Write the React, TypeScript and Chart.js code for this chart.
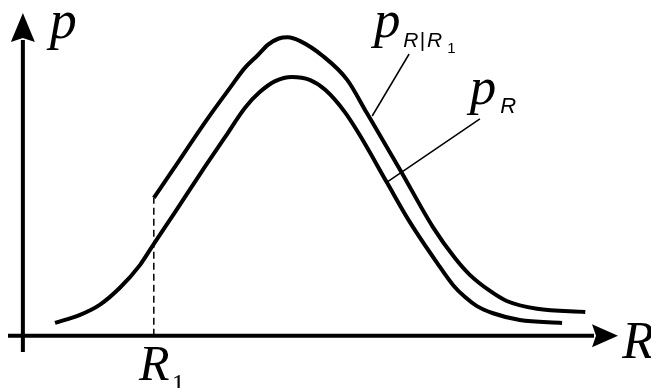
import React, { useEffect, useRef } from "react";
import { Chart, registerables } from "chart.js";

Chart.register(...registerables);

// p_R (unconditional density)
const R_PR = [0.54, 0.96, 1.29, 1.63, 1.97, 2.19, 2.56, 2.98, 3.4, 3.73, 3.98, 4.24, 4.52, 4.82, 5.08, 5.41, 5.66, 6.12, 6.5, 6.96, 7.23, 7.43, 7.63, 7.9, 8.35, 9.06];
const P_PR = [0.04, 0.065, 0.096, 0.149, 0.22, 0.282, 0.384, 0.502, 0.616, 0.706, 0.755, 0.789, 0.802, 0.793, 0.762, 0.693, 0.622, 0.474, 0.353, 0.226, 0.157, 0.12, 0.092, 0.07, 0.049, 0.04];

// p_{R|R1} (conditional density, starts at R1)
const R_COND = [2.2, 2.52, 3.09, 3.48, 3.73, 3.95, 4.12, 4.3, 4.45, 4.66, 5.04, 5.45, 5.78, 6.34, 6.89, 7.26, 7.51, 7.85, 8.13, 8.64, 9.45];
const P_COND = [0.427, 0.514, 0.669, 0.768, 0.83, 0.87, 0.902, 0.921, 0.925, 0.913, 0.867, 0.793, 0.69, 0.514, 0.337, 0.241, 0.189, 0.139, 0.108, 0.084, 0.074];

const R1 = 2.2;

const X_MIN = -0.25;
const X_MAX = 10;
const Y_MIN = -0.05;
const Y_MAX = 1;

const toPts = (xs: number[], ys: number[]) => xs.map((x, i) => ({ x, y: ys[i] }));

const SERIF_I = (s: number) => `italic ${s}px "Liberation Serif", "Times New Roman", serif`;
const SERIF = (s: number) => `${s}px "Liberation Serif", "Times New Roman", serif`;
const SANS_I = (s: number) => `italic ${s}px "Liberation Sans", Arial, sans-serif`;
const SANS = (s: number) => `${s}px "Liberation Sans", Arial, sans-serif`;

// text pieces: [text, R, p, font]
const LABELS: [string, number, number, string][] = [
  ["p", 0.45, 0.923, SERIF_I(54)],
  ["R", 10.07, -0.068, SERIF_I(52)],
  ["R", 1.95, -0.136, SERIF_I(50)],
  ["1", 2.5, -0.173, SERIF(26)],
  ["p", 5.9, 0.926, SERIF_I(53)],
  ["R", 6.39, 0.895, SANS_I(21)],
  ["|", 6.67, 0.895, SANS(21)],
  ["R", 6.79, 0.895, SANS_I(21)],
  ["1", 7.13, 0.876, SANS(15)],
  ["p", 7.51, 0.718, SERIF_I(53)],
  ["R", 8.02, 0.69, SANS_I(22)],
];

// leader lines: [R from, p from, R to, p to]
const LEADERS: [number, number, number, number][] = [
  [6.49, 0.873, 5.87, 0.681],
  [7.68, 0.672, 6.1, 0.474],
];

const axesPlugin = {
  id: "axesPlugin",
  beforeDatasetsDraw(chart: any) {
    const { ctx, scales } = chart;
    const xs = scales.x;
    const ys = scales.y;
    const x0 = xs.getPixelForValue(0);
    const y0 = ys.getPixelForValue(0);
    ctx.save();
    ctx.strokeStyle = "#000";
    ctx.fillStyle = "#000";
    ctx.lineWidth = 4;
    // x axis
    const xTip = xs.getPixelForValue(X_MAX);
    const xBase = xTip - 26;
    ctx.beginPath();
    ctx.moveTo(xs.getPixelForValue(X_MIN), y0);
    ctx.lineTo(xBase + 2, y0);
    ctx.stroke();
    ctx.beginPath();
    ctx.moveTo(xTip, y0);
    ctx.lineTo(xBase, y0 - 11.5);
    ctx.lineTo(xBase + 4, y0);
    ctx.lineTo(xBase, y0 + 11.5);
    ctx.closePath();
    ctx.fill();
    // y axis
    const yTip = ys.getPixelForValue(Y_MAX);
    const yBase = yTip + 29;
    ctx.beginPath();
    ctx.moveTo(x0, ys.getPixelForValue(Y_MIN));
    ctx.lineTo(x0, yBase - 2);
    ctx.stroke();
    ctx.beginPath();
    ctx.moveTo(x0, yTip);
    ctx.lineTo(x0 - 12, yBase);
    ctx.lineTo(x0, yBase - 4);
    ctx.lineTo(x0 + 12, yBase);
    ctx.closePath();
    ctx.fill();
    ctx.restore();
  },
  afterDraw(chart: any) {
    const { ctx, scales } = chart;
    const xs = scales.x;
    const ys = scales.y;
    ctx.save();
    ctx.strokeStyle = "#000";
    ctx.lineWidth = 1.5;
    for (const [ra, pa, rb, pb] of LEADERS) {
      ctx.beginPath();
      ctx.moveTo(xs.getPixelForValue(ra), ys.getPixelForValue(pa));
      ctx.lineTo(xs.getPixelForValue(rb), ys.getPixelForValue(pb));
      ctx.stroke();
    }
    ctx.fillStyle = "#000";
    ctx.textBaseline = "alphabetic";
    ctx.textAlign = "left";
    for (const [t, r, p, f] of LABELS) {
      ctx.font = f;
      ctx.fillText(t, xs.getPixelForValue(r), ys.getPixelForValue(p));
    }
    ctx.restore();
  },
};

export default function App() {
  const ref = useRef<HTMLCanvasElement | null>(null);
  useEffect(() => {
    document.body.style.margin = "0";
    const canvas = ref.current!;
    const chart = new Chart(canvas, {
      type: "line",
      data: {
        datasets: [
          {
            data: toPts(R_PR, P_PR),
            borderColor: "#000",
            borderWidth: 4,
            pointRadius: 0,
            cubicInterpolationMode: "monotone",
            borderCapStyle: "butt",
            borderJoinStyle: "round",
            fill: false,
          },
          {
            data: toPts(R_COND, P_COND),
            borderColor: "#000",
            borderWidth: 4,
            pointRadius: 0,
            cubicInterpolationMode: "monotone",
            borderCapStyle: "butt",
            borderJoinStyle: "round",
            fill: false,
          },
          {
            data: [
              { x: R1, y: 0 },
              { x: R1, y: P_COND[0] },
            ],
            borderColor: "#000",
            borderWidth: 1.5,
            borderDash: [7, 4],
            pointRadius: 0,
            tension: 0,
            fill: false,
          },
        ],
      },
      options: {
        responsive: false,
        animation: false,
        devicePixelRatio: 1,
        layout: { padding: { left: 8, right: 33, top: 13, bottom: 36 } },
        plugins: { legend: { display: false }, tooltip: { enabled: false } },
        scales: {
          x: { type: "linear", min: X_MIN, max: X_MAX, display: false },
          y: { type: "linear", min: Y_MIN, max: Y_MAX, display: false },
        },
      },
      plugins: [axesPlugin],
    } as any);
    return () => chart.destroy();
  }, []);
  return (
    <canvas
      ref={ref}
      width={651}
      height={388}
      style={{ display: "block", width: 651, height: 388, background: "#fff" }}
    />
  );
}
